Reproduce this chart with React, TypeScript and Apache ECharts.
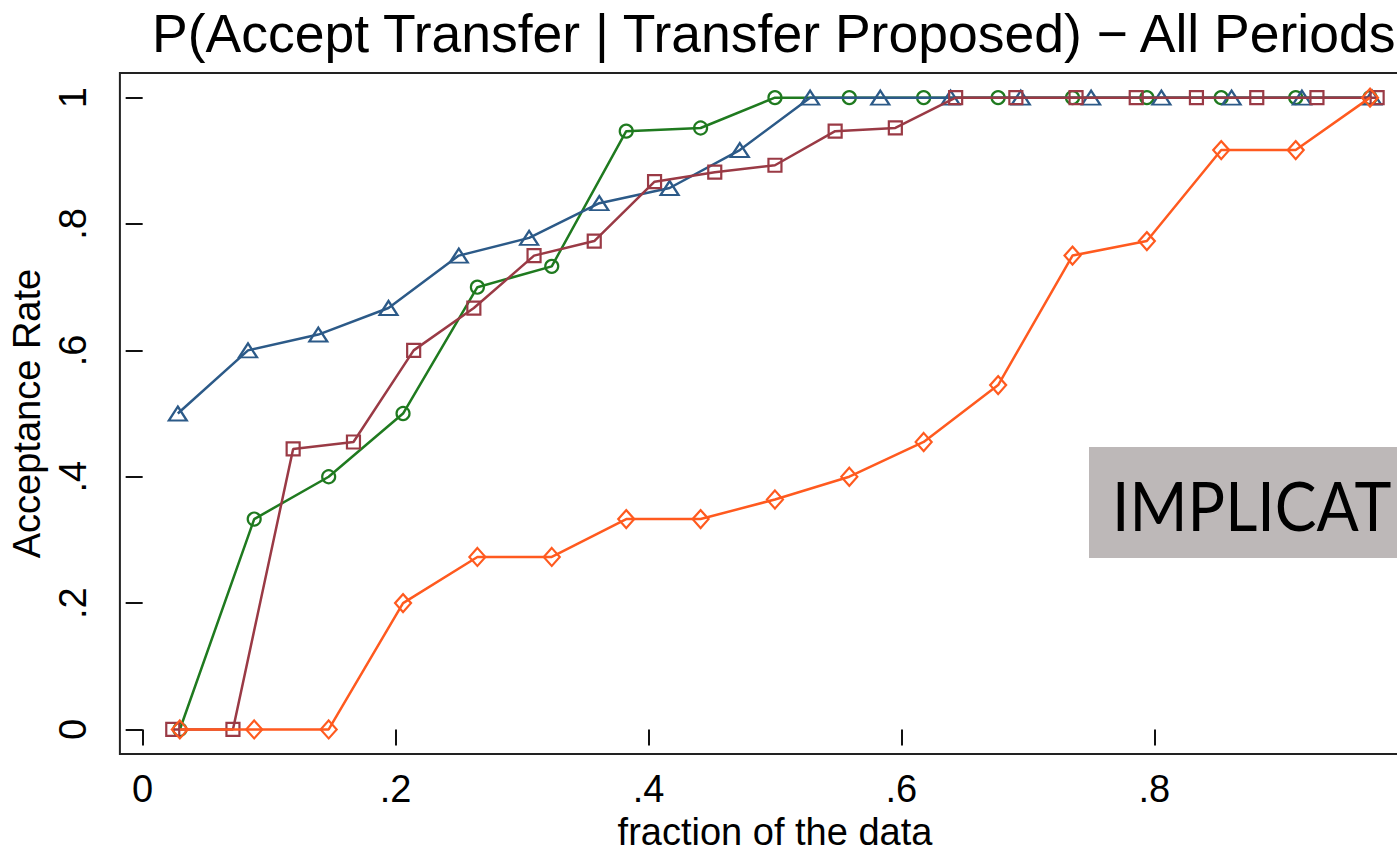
import React, { useEffect, useRef } from "react";
import * as echarts from "echarts";

const titleText = "P(Accept Transfer | Transfer Proposed) \u2212 All Periods";
const xAxisName = "fraction of the data";
const yAxisName = "Acceptance Rate";
const tickValues = [0, 0.2, 0.4, 0.6, 0.8, 1];
const overlayText = "IMPLICAT";

const greenX = [0.0294, 0.0882, 0.1471, 0.2059, 0.2647, 0.3235, 0.3824, 0.4412, 0.5, 0.5588, 0.6176, 0.6765, 0.7353, 0.7941, 0.8529, 0.9118, 0.9706];
const greenY = [0, 0.333, 0.4, 0.5, 0.7, 0.733, 0.947, 0.952, 1, 1, 1, 1, 1, 1, 1, 1, 1];

const blueX = [0.0278, 0.0833, 0.1389, 0.1944, 0.25, 0.3056, 0.3611, 0.4167, 0.4722, 0.5278, 0.5833, 0.6389, 0.6944, 0.75, 0.8056, 0.8611, 0.9167, 0.9722];
const blueY = [0.5, 0.6, 0.625, 0.667, 0.75, 0.778, 0.833, 0.857, 0.917, 1, 1, 1, 1, 1, 1, 1, 1, 1];

const redX = [0.0238, 0.0714, 0.119, 0.1667, 0.2143, 0.2619, 0.3095, 0.3571, 0.4048, 0.4524, 0.5, 0.5476, 0.5952, 0.6429, 0.6905, 0.7381, 0.7857, 0.8333, 0.881, 0.9286, 0.9762];
const redY = [0, 0, 0.444, 0.455, 0.6, 0.667, 0.75, 0.773, 0.867, 0.882, 0.893, 0.947, 0.952, 1, 1, 1, 1, 1, 1, 1, 1];

const orangeX = [0.0294, 0.0882, 0.1471, 0.2059, 0.2647, 0.3235, 0.3824, 0.4412, 0.5, 0.5588, 0.6176, 0.6765, 0.7353, 0.7941, 0.8529, 0.9118, 0.9706];
const orangeY = [0, 0, 0, 0.2, 0.273, 0.273, 0.333, 0.333, 0.364, 0.4, 0.455, 0.545, 0.75, 0.773, 0.917, 0.917, 1];

const FONT = "'Liberation Sans', Arial, sans-serif";

const fmt = (v: number) => {
  if (v === 0) return "0";
  if (v === 1) return "1";
  return String(v).replace(/^0\./, ".");
};

function makeSeries(name: string, xs: number[], ys: number[], color: string, symbol: string, size: any, z: number) {
  return {
    name,
    type: "line",
    data: xs.map((x, i) => [x, ys[i]]),
    symbol,
    symbolSize: size,
    showSymbol: true,
    z,
    lineStyle: { color, width: 2.5 },
    itemStyle: { color: "transparent", borderColor: color, borderWidth: 2.2 },
    emphasis: { disabled: true },
    silent: true,
  };
}

export default function App() {
  const ref = useRef<HTMLDivElement>(null);
  useEffect(() => {
    if (!ref.current) return;
    const chart = echarts.init(ref.current, null, { renderer: "svg" });
    chart.setOption({
      animation: false,
      backgroundColor: "#fff",
      title: {
        text: titleText,
        left: 147,
        top: 1,
        textStyle: { fontFamily: FONT, fontSize: 53.5, fontWeight: "normal", color: "#000" },
      },
      grid: {
        left: 115,
        top: 73,
        width: 1315,
        height: 689,
        show: true,
        borderColor: "#222",
        borderWidth: 2,
        backgroundColor: "transparent",
      },
      xAxis: {
        type: "value",
        min: -0.018,
        max: 1.018,
        splitLine: { show: false },
        axisLine: { show: false },
        axisTick: { show: true, inside: false, length: 16, customValues: tickValues, lineStyle: { color: "#111", width: 2 } },
        axisLabel: { customValues: tickValues, formatter: fmt, fontFamily: FONT, fontSize: 38, color: "#000", margin: 16 },
        name: xAxisName,
        nameLocation: "middle",
        nameGap: 55,
        nameTextStyle: { fontFamily: FONT, fontSize: 38, color: "#000" },
      },
      yAxis: {
        type: "value",
        min: -0.039,
        max: 1.039,
        splitLine: { show: false },
        axisLine: { show: false },
        axisTick: { show: true, inside: false, length: 17, customValues: tickValues, lineStyle: { color: "#111", width: 2 } },
        axisLabel: { customValues: tickValues, formatter: fmt, rotate: 90, fontFamily: FONT, fontSize: 38, color: "#000", margin: 28 },
        name: yAxisName,
        nameLocation: "middle",
        nameGap: 70,
        nameRotate: 90,
        nameTextStyle: { fontFamily: FONT, fontSize: 38, color: "#000" },
      },
      series: [
        makeSeries("green", greenX, greenY, "#1F7A1F", "circle", 13, 2),
        makeSeries("blue", blueX, blueY, "#2C5A88", "triangle", [18, 14], 3),
        makeSeries("red", redX, redY, "#9A3A45", "rect", 13, 4),
        makeSeries("orange", orangeX, orangeY, "#FF5A1F", "diamond", [16, 18], 5),
      ],
      graphic: [
        {
          type: "rect",
          shape: { x: 1089, y: 447, width: 400, height: 111 },
          style: { fill: "#BDB8B8" },
          z: 100,
          silent: true,
        },
        {
          type: "text",
          x: 1112,
          y: 505,
          scaleX: 0.92,
          style: {
            text: overlayText,
            fontFamily: "Lato, 'DejaVu Sans', sans-serif",
            fontSize: 68,
            fill: "#000",
            verticalAlign: "middle",
            align: "left",
          },
          z: 101,
          silent: true,
        },
      ],
    });
    return () => chart.dispose();
  }, []);
  return (
    <div style={{ position: "fixed", left: 0, top: 0, width: 1397, height: 856, overflow: "hidden", background: "#fff" }}>
      <div ref={ref} style={{ width: 1460, height: 856 }} />
    </div>
  );
}
